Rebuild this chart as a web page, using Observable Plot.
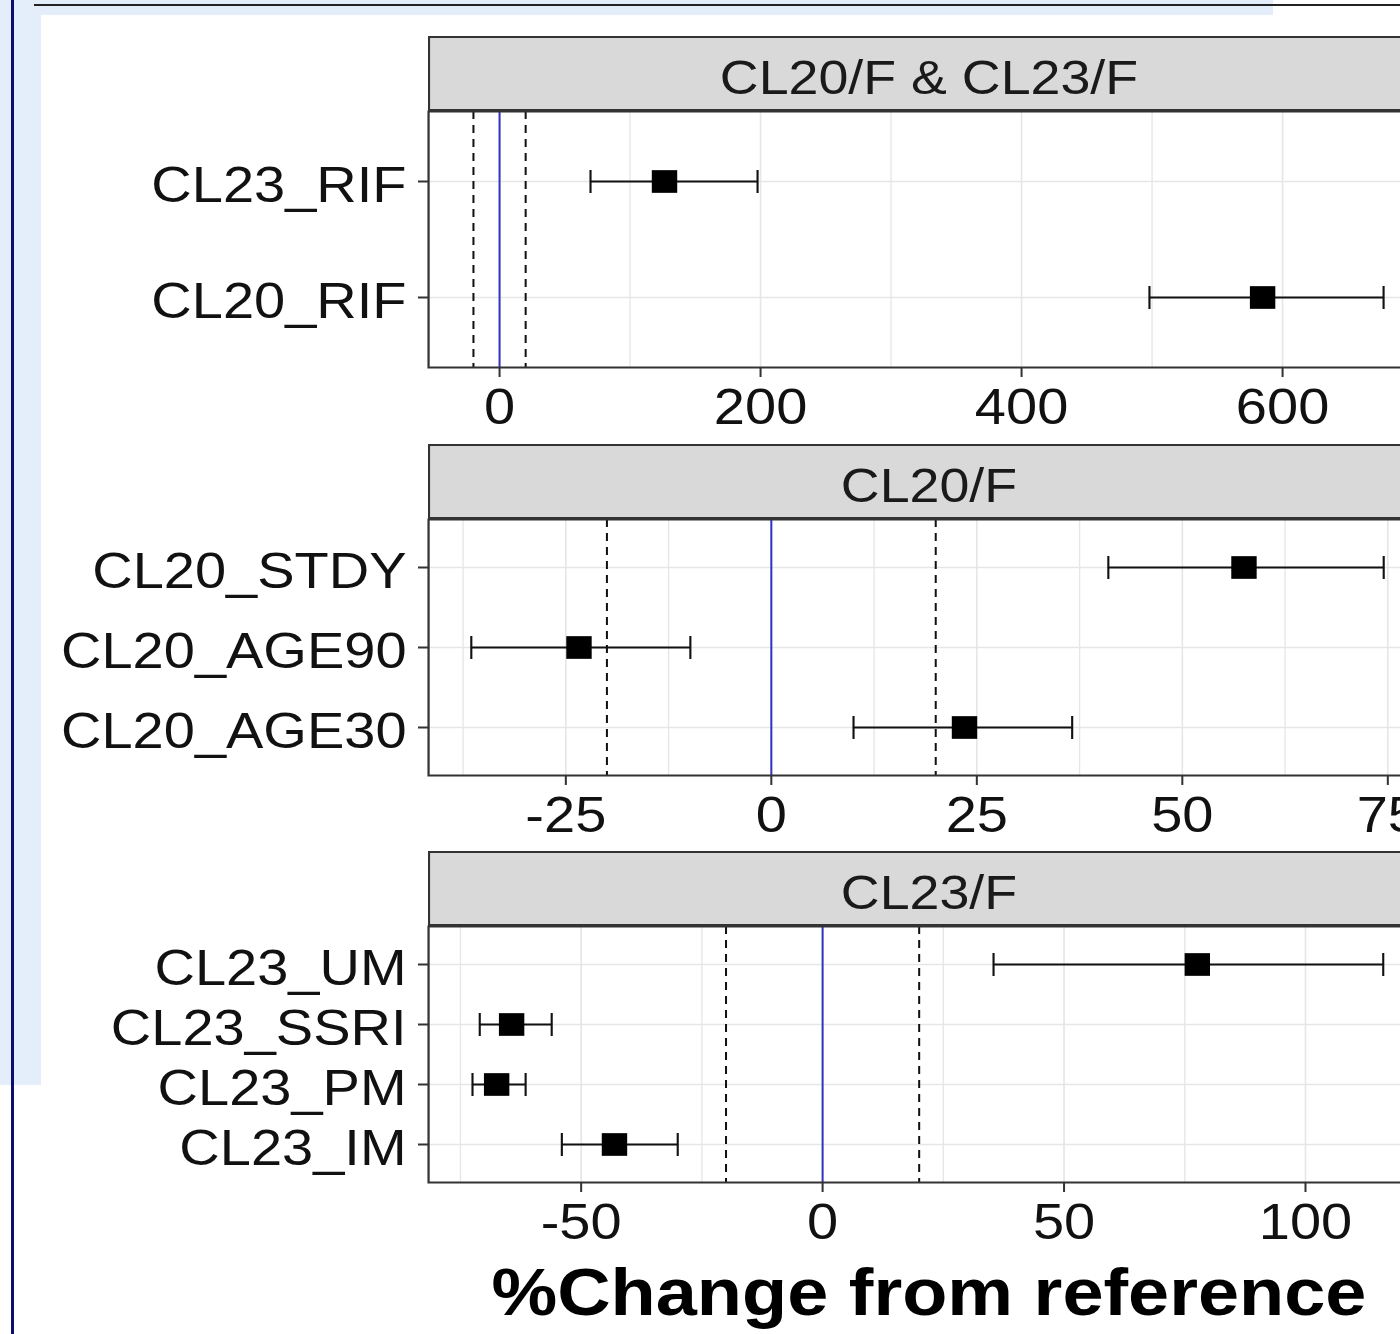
<!DOCTYPE html>
<html>
<head>
<meta charset="utf-8">
<script src="https://cdn.jsdelivr.net/npm/d3@7"></script>
<script src="https://cdn.jsdelivr.net/npm/@observablehq/plot@0.6"></script>
<style>
  html, body { margin: 0; padding: 0; background: white; }
  #page { position: relative; width: 1400px; height: 1334px; overflow: hidden; background: white; }
  .deco { position: absolute; }
  #stage { position: absolute; left: 0; top: 0; height: 1334px; transform-origin: 0 0; }
  .strip { position: absolute; box-sizing: border-box; background: #d9d9d9; border: 2px solid #333;
           font-family: "Liberation Sans", Arial, sans-serif; font-size: 48px; color: #1a1a1a;
           text-align: center; white-space: nowrap; line-height: 71px; padding-top: 4px; }
  .xtitle { position: absolute; font-family: "Liberation Sans", Arial, sans-serif; font-weight: bold;
            font-size: 66px; line-height: 66px; color: #000; text-align: center; white-space: nowrap; }
</style>
</head>
<body>
<div id="page">
  <div class="deco" style="left:0;top:0;width:41px;height:1085px;background:#e4eefa"></div>
  <div class="deco" style="left:0;top:0;width:1273px;height:15px;background:#e4eefa"></div>
  <div class="deco" style="left:34px;top:4px;width:1366px;height:2px;background:#222"></div>
  <div class="deco" style="left:11px;top:0;width:3px;height:1334px;background:#0d0d6b"></div>
  <div id="stage"></div>
</div>
<script>
// ---- Data ----
const stripTitles = ["CL20/F & CL23/F", "CL20/F", "CL23/F"];

const rifCats = ["CL23_RIF", "CL20_RIF"];
const rifEst  = [126.4, 584.7];
const rifLo   = [69.7, 498.0];
const rifHi   = [197.7, 677.4];
const rifTicks = [0, 200, 400, 600];
const rifMinor = [100, 300, 500, 700];
const rifDomain = [-54.4, 713.4];

const cl20Cats = ["CL20_STDY", "CL20_AGE90", "CL20_AGE30"];
const cl20Est  = [57.5, -23.4, 23.5];
const cl20Lo   = [41.0, -36.5, 10.0];
const cl20Hi   = [74.5, -9.85, 36.6];
const cl20Ticks = [-25, 0, 25, 50, 75];
const cl20Minor = [-37.5, -12.5, 12.5, 37.5, 62.5];
const cl20Domain = [-41.7, 80.2];

const cl23Cats = ["CL23_UM", "CL23_SSRI", "CL23_PM", "CL23_IM"];
const cl23Est  = [77.6, -64.4, -67.5, -43.1];
const cl23Lo   = [35.4, -71.0, -72.5, -54.0];
const cl23Hi   = [116.1, -56.1, -61.5, -30.0];
const cl23Ticks = [-50, 0, 50, 100];
const cl23Minor = [-75, -25, 25, 75, 125];
const cl23Domain = [-81.6, 125.9];

const refLine = [0];
const bounds = [-20, 20];
const xTitle = "%Change from reference";

// ---- Layout ----
const S = 1.12;                 // horizontal stretch of the reference picture
const panelLeft = 428 / S;
const panelRight = 1430 / S;
const svgW = 1290;
const stripH = 75, panelH = 256, bottomH = 70;
const tops = [36, 444, 851];

const stage = document.getElementById("stage");
stage.style.width = (1400 / S) + "px";
stage.style.transform = `scaleX(${S})`;

const capSymbol = {
  draw(ctx, size) {
    const h = Math.sqrt(size / Math.PI);
    ctx.moveTo(0, -h);
    ctx.lineTo(0, h);
  }
};

function makePanel(cats, est, lo, hi, domain, ticks, minor) {
  const rows = cats.map((c, i) => ({cat: c, est: est[i], lo: lo[i], hi: hi[i]}));
  return Plot.plot({
    width: svgW,
    height: stripH + panelH + bottomH,
    marginLeft: panelLeft,
    marginRight: svgW - panelRight,
    marginTop: stripH,
    marginBottom: bottomH,
    style: {background: "transparent", maxWidth: "none", overflow: "visible",
            fontFamily: "Liberation Sans, Arial, sans-serif", fontSize: "50px"},
    x: {domain, label: null},
    y: {type: "point", domain: cats, padding: 0.6, label: null},
    marks: [
      Plot.ruleY(cats, {y: d => d, stroke: "#e6e6e6", strokeWidth: 1.6}),
      Plot.ruleX(minor.filter(v => v > domain[0] && v < domain[1]), {x: d => d, stroke: "#e6e6e6", strokeWidth: 1.2}),
      Plot.ruleX(ticks, {x: d => d, stroke: "#e6e6e6", strokeWidth: 1.45}),
      Plot.ruleX(bounds, {x: d => d, stroke: "#111", strokeWidth: 1.8, strokeDasharray: "8,6"}),
      Plot.ruleX(refLine, {x: d => d, stroke: "#3434c4", strokeWidth: 1.8}),
      Plot.ruleY(rows, {y: "cat", x1: "lo", x2: "hi", stroke: "#111", strokeWidth: 2}),
      Plot.dot(rows, {x: "lo", y: "cat", symbol: capSymbol, r: 11.5, fill: "none", stroke: "#111", strokeWidth: 1.9}),
      Plot.dot(rows, {x: "hi", y: "cat", symbol: capSymbol, r: 11.5, fill: "none", stroke: "#111", strokeWidth: 1.9}),
      Plot.dot(rows, {x: "est", y: "cat", symbol: "square", r: 12.8, fill: "#000", stroke: "none"}),
      Plot.frame({stroke: "#333", strokeWidth: 2}),
      Plot.axisX({ticks, tickFormat: d => String(d), tickSize: 10, tickPadding: 11,
                  fontSize: 50, stroke: "#333", strokeWidth: 1.8, fill: "#111", label: null}),
      Plot.axisY({tickSize: 10 / S, tickFormat: () => "", stroke: "#333", strokeWidth: 2, label: null}),
      Plot.text(cats, {y: d => d, text: d => d, frameAnchor: "left", textAnchor: "end",
                       dx: -22 / S, dy: 4, fontSize: 50, fill: "#111"})
    ]
  });
}

const panels = [
  makePanel(rifCats, rifEst, rifLo, rifHi, rifDomain, rifTicks, rifMinor),
  makePanel(cl20Cats, cl20Est, cl20Lo, cl20Hi, cl20Domain, cl20Ticks, cl20Minor),
  makePanel(cl23Cats, cl23Est, cl23Lo, cl23Hi, cl23Domain, cl23Ticks, cl23Minor)
];

panels.forEach((svg, i) => {
  const wrap = document.createElement("div");
  wrap.style.position = "absolute";
  wrap.style.left = "0px";
  wrap.style.top = tops[i] + "px";
  wrap.appendChild(svg);
  stage.appendChild(wrap);

  const strip = document.createElement("div");
  strip.className = "strip";
  strip.style.left = panelLeft + "px";
  strip.style.top = tops[i] + "px";
  strip.style.width = (panelRight - panelLeft) + "px";
  strip.style.height = stripH + "px";
  strip.textContent = stripTitles[i];
  stage.appendChild(strip);
});

const title = document.createElement("div");
title.className = "xtitle";
title.style.left = panelLeft + "px";
title.style.width = (panelRight - panelLeft) + "px";
title.style.top = "1259px";
title.textContent = xTitle;
stage.appendChild(title);
</script>
</body>
</html>
